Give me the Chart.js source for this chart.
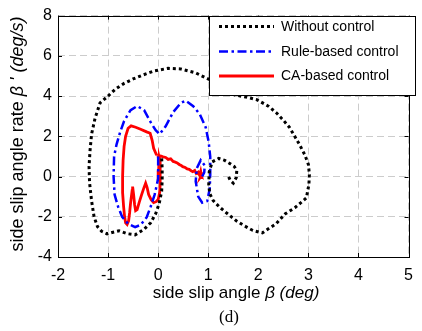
<!DOCTYPE html>
<html>
<head>
<meta charset="utf-8">
<script src="https://cdn.jsdelivr.net/npm/chart.js@4.4.0/dist/chart.umd.min.js"></script>
<style>
  html, body { margin: 0; padding: 0; background: #fff; }
  canvas { display: block; }
</style>
</head>
<body>
<canvas id="chart" width="422" height="331"></canvas>
<script>
'use strict';

// axis ticks
const xTicks = [-2, -1, 0, 1, 2, 3, 4, 5];
const yTicks = [-4, -2, 0, 2, 4, 6, 8];
const seriesNames = ['Without control', 'Rule-based control', 'CA-based control'];

// phase trajectories, [beta, beta']
const withoutControl = [
  [0.07,0.9],[0.08,0.4],[0.08,-0.2],[0.07,-0.73],[0.02,-1.35],[-0.05,-1.85],[-0.15,-2.3],[-0.28,-2.62],
  [-0.46,-2.9],[-0.62,-2.84],[-0.78,-2.7],[-0.92,-2.78],[-1.02,-2.85],[-1.13,-2.72],[-1.21,-2.5],[-1.28,-2.0],
  [-1.33,-1.2],[-1.37,-0.3],[-1.38,0.5],[-1.36,1.3],[-1.33,2.1],[-1.26,2.9],[-1.16,3.66],[-1.01,3.98],
  [-0.85,4.35],[-0.68,4.63],[-0.5,4.85],[-0.3,5.05],[-0.08,5.25],[0.2,5.38],[0.45,5.35],[0.75,5.15],
  [1.04,4.8],[1.3,4.45],[1.52,4.06],[1.75,3.95],[1.97,3.82],[2.2,3.5],[2.36,3.17],[2.5,2.8],
  [2.62,2.45],[2.72,2.03],[2.82,1.6],[2.93,1.07],[3.0,0.6],[3.02,0.1],[3.01,-0.4],[2.96,-1.06],
  [2.85,-1.3],[2.73,-1.55],[2.54,-1.85],[2.35,-2.36],[2.2,-2.6],[2.08,-2.8],[1.89,-2.68],[1.72,-2.45],
  [1.56,-2.2],[1.4,-1.88],[1.24,-1.55],[1.1,-1.2],[1.03,-0.85],[1.01,-0.4],[1.02,0.24],[1.08,0.73],
  [1.21,0.9],[1.33,0.8],[1.43,0.65],[1.52,0.5],[1.57,0.3],[1.56,-0.05],[1.5,-0.33],[1.44,-0.2],[1.4,0.03]
];
const ruleBased = [
  [0.0,1.0],[0.0,0.4],[0.0,-0.1],[-0.07,-0.9],[-0.15,-1.5],[-0.23,-2.03],[-0.35,-2.4],[-0.46,-2.52],
  [-0.6,-2.35],[-0.72,-2.0],[-0.8,-1.5],[-0.87,-0.9],[-0.89,0.0],[-0.88,1.0],[-0.83,1.6],[-0.76,2.2],
  [-0.68,2.76],[-0.55,3.3],[-0.42,3.5],[-0.28,3.3],[-0.15,2.7],[-0.05,2.3],[0.03,2.11],[0.15,2.5],
  [0.3,3.2],[0.45,3.65],[0.55,3.77],[0.7,3.5],[0.83,3.1],[0.95,2.44],[1.01,1.7],[1.04,0.98],
  [1.04,0.1],[1.03,-0.6],[0.98,-1.22],[0.88,-1.3],[0.8,-1.0],[0.75,-0.24],[0.77,0.4],[0.85,0.81],
  [0.93,0.55],[0.92,0.2],[0.88,0.0]
];
const caBased = [
  [-0.03,1.06],[-0.09,1.4],[-0.12,1.8],[-0.16,2.15],[-0.23,2.22],[-0.35,2.35],[-0.45,2.45],[-0.54,2.52],
  [-0.6,2.4],[-0.65,2.0],[-0.68,1.5],[-0.7,0.8],[-0.71,0.0],[-0.71,-0.8],[-0.69,-1.5],[-0.67,-2.0],
  [-0.65,-2.3],[-0.62,-2.38],[-0.59,-2.2],[-0.57,-1.8],[-0.55,-1.3],[-0.52,-0.7],[-0.51,-0.5],[-0.49,-0.9],
  [-0.47,-1.4],[-0.45,-1.7],[-0.42,-1.65],[-0.38,-1.3],[-0.33,-0.9],[-0.29,-0.6],[-0.25,-0.33],[-0.22,-0.55],
  [-0.19,-0.9],[-0.14,-1.15],[-0.09,-1.3],[-0.04,-1.25],[0.0,-1.14],[0.03,-0.8],[0.04,-0.4],[0.04,0.2],
  [0.04,0.73],[0.02,0.95],[0.01,0.3],[0.0,-0.2],[0.02,0.6],[0.0,1.0],[0.05,1.02],[0.1,0.98],
  [0.15,0.95],[0.2,0.85],[0.25,0.88],[0.3,0.75],[0.33,0.73],[0.38,0.68],[0.42,0.6],[0.46,0.55],
  [0.49,0.49],[0.54,0.45],[0.58,0.38],[0.62,0.36],[0.66,0.28],[0.69,0.24],[0.73,0.3],[0.76,0.15],
  [0.8,0.22],[0.83,0.05],[0.85,0.25],[0.87,0.0],[0.82,0.1],[0.86,0.12],[0.84,-0.05],[0.88,0.08]
];

const FAMILY = '"Liberation Sans", Arial, Helvetica, sans-serif';
const font = (size, style) => (style ? style + ' ' : '') + size + 'px ' + FAMILY;
const toXY = (arr) => arr.map(p => ({ x: p[0], y: p[1] }));

// text with plain and italic runs, centred on (cx, cy)
function drawRich(ctx, parts, size, cx, cy){
  let total = 0;
  const widths = parts.map(p => { ctx.font = font(size, p[1] ? 'italic' : ''); const w = ctx.measureText(p[0]).width; total += w; return w; });
  let x = cx - total / 2;
  ctx.textAlign = 'left';
  ctx.textBaseline = 'middle';
  parts.forEach((p, i) => { ctx.font = font(size, p[1] ? 'italic' : ''); ctx.fillText(p[0], x, cy); x += widths[i]; });
}

// box, inward ticks, legend and labels drawn MATLAB style
const decor = {
  id: 'decor',
  afterDraw(chart){
    const ctx = chart.ctx;
    const a = chart.chartArea;
    const sx = chart.scales.x, sy = chart.scales.y;
    ctx.save();
    ctx.strokeStyle = '#000';
    ctx.lineWidth = 1;
    ctx.setLineDash([]);
    ctx.strokeRect(Math.round(a.left) + 0.5, Math.round(a.top) + 0.5, Math.round(a.right - a.left), Math.round(a.bottom - a.top));
    ctx.beginPath();
    xTicks.forEach(t => {
      const px = Math.round(sx.getPixelForValue(t)) + 0.5;
      ctx.moveTo(px, a.bottom); ctx.lineTo(px, a.bottom - 4);
      ctx.moveTo(px, a.top); ctx.lineTo(px, a.top + 4);
    });
    yTicks.forEach(t => {
      const py = Math.round(sy.getPixelForValue(t)) + 0.5;
      ctx.moveTo(a.left, py); ctx.lineTo(a.left + 4, py);
      ctx.moveTo(a.right, py); ctx.lineTo(a.right - 4, py);
    });
    ctx.stroke();

    // legend
    const lx = 209.5, ly = Math.round(a.top) + 0.5, lw = 206, lh = 79;
    ctx.fillStyle = '#fff';
    ctx.fillRect(lx, ly, lw, lh);
    ctx.strokeRect(lx, ly, lw, lh);
    const rows = [26.5, 51.5, 76];
    chart.data.datasets.forEach((ds, i) => {
      ctx.save();
      ctx.strokeStyle = ds.borderColor;
      ctx.lineWidth = ds.borderWidth;
      ctx.setLineDash(ds.borderDash || []);
      ctx.beginPath();
      ctx.moveTo(219, rows[i]); ctx.lineTo(274, rows[i]);
      ctx.stroke();
      ctx.restore();
      ctx.fillStyle = '#000';
      ctx.font = font(14);
      ctx.textAlign = 'left';
      ctx.textBaseline = 'middle';
      ctx.fillText(seriesNames[i], 281, rows[i] + 0.5);
    });

    // axis titles
    ctx.fillStyle = '#000';
    drawRich(ctx, [['side slip angle ', false], ['\u03B2 (deg)', true]], 17, 236, 293);
    ctx.save();
    ctx.translate(18, 134);
    ctx.rotate(-Math.PI / 2);
    drawRich(ctx, [['side slip angle rate ', false], ["\u03B2 ' (deg/s)", true]], 18, 0, 0);
    ctx.restore();

    ctx.font = '17px "Liberation Serif", "Times New Roman", serif';
    ctx.textAlign = 'center';
    ctx.textBaseline = 'middle';
    ctx.fillText('(d)', 229, 318);
    ctx.restore();
  }
};

const gridOpts = { color: '#cccccc', lineWidth: 1, drawTicks: false };
const borderOpts = { display: false, dash: [7, 4] };

new Chart(document.getElementById('chart'), {
  type: 'scatter',
  data: {
    datasets: [
      { label: seriesNames[0], data: toXY(withoutControl), showLine: true, borderColor: '#000000', borderWidth: 3, borderDash: [3, 3], pointRadius: 0, tension: 0, fill: false },
      { label: seriesNames[1], data: toXY(ruleBased), showLine: true, borderColor: '#0000ff', borderWidth: 2.5, borderDash: [9, 3.5, 2.5, 3.5], pointRadius: 0, tension: 0, fill: false },
      { label: seriesNames[2], data: toXY(caBased), showLine: true, borderColor: '#ff0000', borderWidth: 2.8, pointRadius: 0, tension: 0, fill: false }
    ]
  },
  options: {
    responsive: false,
    animation: false,
    devicePixelRatio: 1,
    layout: { padding: { top: 11, right: 5, left: 0, bottom: 0 } },
    plugins: { legend: { display: false }, tooltip: { enabled: false } },
    scales: {
      x: {
        type: 'linear', min: -2, max: 5,
        afterBuildTicks: s => { s.ticks = xTicks.map(v => ({ value: v })); },
        afterFit: s => { s.height = 74; },
        ticks: { color: '#000', font: { family: FAMILY, size: 16 }, padding: 9, maxRotation: 0 },
        grid: gridOpts,
        border: borderOpts
      },
      y: {
        type: 'linear', min: -4, max: 8,
        afterBuildTicks: s => { s.ticks = yTicks.map(v => ({ value: v })); },
        afterFit: s => { s.width = 58; },
        ticks: { color: '#000', font: { family: FAMILY, size: 16 }, padding: 6 },
        grid: gridOpts,
        border: borderOpts
      }
    }
  },
  plugins: [decor]
});
</script>
</body>
</html>
